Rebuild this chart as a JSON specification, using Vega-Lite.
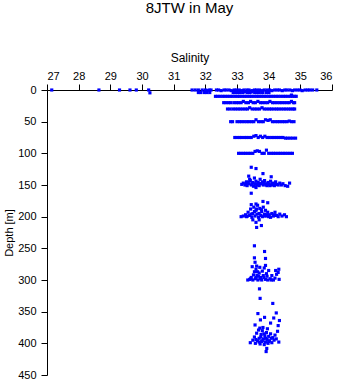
{
  "$schema": "https://vega.github.io/schema/vega-lite/v6.json",
  "width": 285,
  "height": 285,
  "autosize": {"type": "none"},
  "padding": {"left": 47, "top": 90, "right": 9, "bottom": 9},
  "title": {"text": "8JTW in May", "frame": "group", "anchor": "middle", "offset": 23, "baseline": "alphabetic", "fontSize": 15, "fontWeight": "normal", "font": "Liberation Sans", "color": "black"},
  "data": {"values": [
    {"s":27.15,"d":0},{"s":28.64,"d":0},{"s":29.29,"d":0},{"s":29.62,"d":0},{"s":29.82,"d":0},{"s":30.21,"d":0},{"s":30.25,"d":4.5},
    {"s":31.58,"d":0},{"s":31.68,"d":0},{"s":31.78,"d":0},{"s":31.9,"d":0},{"s":32.0,"d":0},{"s":32.05,"d":1},{"s":32.12,"d":0},{"s":32.18,"d":0},
    {"s":32.35,"d":0},{"s":32.42,"d":0},{"s":32.5,"d":1},{"s":32.59,"d":0},{"s":32.66,"d":0},{"s":32.75,"d":0},{"s":32.82,"d":1},{"s":32.91,"d":0},{"s":32.98,"d":0},{"s":33.07,"d":0},{"s":33.15,"d":1},{"s":33.22,"d":0},{"s":33.31,"d":0},{"s":33.38,"d":0},{"s":33.47,"d":1},{"s":33.55,"d":0},{"s":33.62,"d":0},{"s":33.71,"d":0},{"s":33.79,"d":1},{"s":33.86,"d":0},{"s":33.95,"d":0},{"s":34.03,"d":0},{"s":34.1,"d":1},{"s":34.19,"d":0},{"s":34.27,"d":0},{"s":34.34,"d":0},{"s":34.43,"d":1},{"s":34.51,"d":0},{"s":34.58,"d":0},{"s":34.67,"d":0},{"s":34.75,"d":1},{"s":34.82,"d":0},{"s":34.91,"d":0},{"s":34.99,"d":0},{"s":35.06,"d":1},{"s":35.15,"d":0},{"s":35.23,"d":0},{"s":35.3,"d":0},{"s":35.39,"d":0},{"s":35.52,"d":0},
    {"s":31.78,"d":4},{"s":31.86,"d":4},{"s":31.97,"d":4},{"s":32.05,"d":4},{"s":32.14,"d":4},
    {"s":32.88,"d":4},{"s":32.95,"d":4},{"s":33.03,"d":4},{"s":33.1,"d":4},{"s":33.18,"d":4},{"s":33.26,"d":3},{"s":33.33,"d":4},{"s":33.41,"d":4},{"s":33.48,"d":3},{"s":33.56,"d":4},{"s":33.63,"d":4},{"s":33.7,"d":4},{"s":33.78,"d":4},{"s":33.82,"d":4},{"s":33.93,"d":4},{"s":34.01,"d":4},
    {"s":32.32,"d":10},{"s":32.39,"d":10},{"s":32.47,"d":10},{"s":32.55,"d":10},{"s":32.62,"d":10},{"s":32.7,"d":10},{"s":32.78,"d":10},{"s":32.85,"d":10},{"s":32.93,"d":10},{"s":33.01,"d":10},{"s":33.08,"d":10},{"s":33.16,"d":10},{"s":33.24,"d":10},{"s":33.31,"d":10},{"s":33.39,"d":10},{"s":33.46,"d":10},{"s":33.54,"d":10},{"s":33.62,"d":10},{"s":33.69,"d":10},{"s":33.77,"d":10},{"s":33.85,"d":10},{"s":33.92,"d":10},{"s":34.0,"d":10},{"s":34.07,"d":10},{"s":34.15,"d":10},{"s":34.23,"d":10},{"s":34.3,"d":10},{"s":34.38,"d":10},{"s":34.46,"d":10},{"s":34.53,"d":10},{"s":34.61,"d":10},{"s":34.69,"d":10},{"s":34.72,"d":8},{"s":34.76,"d":10},{"s":34.82,"d":10},{"s":34.87,"d":10},
    {"s":32.58,"d":20},{"s":32.65,"d":20},{"s":32.73,"d":20},{"s":32.8,"d":20},{"s":32.9,"d":20},{"s":32.98,"d":20},{"s":33.05,"d":20},{"s":33.13,"d":20},{"s":33.2,"d":18},{"s":33.28,"d":20},{"s":33.36,"d":20},{"s":33.43,"d":18},{"s":33.51,"d":20},{"s":33.58,"d":20},{"s":33.66,"d":18},{"s":33.74,"d":20},{"s":33.81,"d":20},{"s":33.89,"d":20},{"s":33.97,"d":20},{"s":34.04,"d":18},{"s":34.12,"d":20},{"s":34.19,"d":20},{"s":34.27,"d":20},{"s":34.35,"d":20},{"s":34.42,"d":20},{"s":34.5,"d":20},{"s":34.58,"d":20},{"s":34.65,"d":20},{"s":34.72,"d":18},{"s":34.78,"d":20},{"s":34.82,"d":20},
    {"s":32.7,"d":30},{"s":32.78,"d":30},{"s":32.87,"d":30},{"s":32.95,"d":30},{"s":33.03,"d":30},{"s":33.1,"d":30},{"s":33.18,"d":30},{"s":33.26,"d":30},{"s":33.33,"d":30},{"s":33.4,"d":28},{"s":33.48,"d":30},{"s":33.56,"d":30},{"s":33.63,"d":30},{"s":33.71,"d":30},{"s":33.79,"d":28},{"s":33.86,"d":30},{"s":33.94,"d":30},{"s":34.02,"d":30},{"s":34.09,"d":30},{"s":34.17,"d":30},{"s":34.25,"d":30},{"s":34.32,"d":30},{"s":34.4,"d":30},{"s":34.48,"d":30},{"s":34.55,"d":30},{"s":34.63,"d":30},{"s":34.7,"d":30},{"s":34.77,"d":30},{"s":34.82,"d":30},
    {"s":32.8,"d":50},{"s":32.86,"d":50},{"s":33.0,"d":50},{"s":33.08,"d":50},{"s":33.15,"d":50},{"s":33.23,"d":50},{"s":33.31,"d":50},{"s":33.38,"d":50},{"s":33.46,"d":50},{"s":33.53,"d":50},{"s":33.6,"d":47},{"s":33.68,"d":50},{"s":33.76,"d":50},{"s":33.83,"d":50},{"s":33.9,"d":47},{"s":33.98,"d":48},{"s":34.05,"d":47},{"s":34.12,"d":50},{"s":34.2,"d":50},{"s":34.28,"d":50},{"s":34.35,"d":50},{"s":34.43,"d":50},{"s":34.5,"d":50},{"s":34.58,"d":50},{"s":34.65,"d":49},{"s":34.72,"d":50},{"s":34.8,"d":50},
    {"s":32.93,"d":75},{"s":33.0,"d":75},{"s":33.08,"d":75},{"s":33.15,"d":75},{"s":33.23,"d":75},{"s":33.3,"d":75},{"s":33.38,"d":75},{"s":33.45,"d":75},{"s":33.53,"d":73},{"s":33.6,"d":72},{"s":33.67,"d":75},{"s":33.74,"d":73},{"s":33.81,"d":75},{"s":33.88,"d":73},{"s":33.95,"d":75},{"s":34.02,"d":75},{"s":34.1,"d":75},{"s":34.17,"d":75},{"s":34.25,"d":75},{"s":34.32,"d":75},{"s":34.39,"d":75},{"s":34.45,"d":75},{"s":34.53,"d":76},{"s":34.6,"d":76},{"s":34.68,"d":76},{"s":34.76,"d":76},{"s":34.85,"d":76},
    {"s":33.05,"d":100},{"s":33.12,"d":100},{"s":33.2,"d":100},{"s":33.27,"d":100},{"s":33.35,"d":100},{"s":33.42,"d":100},{"s":33.5,"d":100},{"s":33.57,"d":97},{"s":33.64,"d":96},{"s":33.71,"d":97},{"s":33.79,"d":100},{"s":33.86,"d":100},{"s":33.93,"d":95},{"s":34.0,"d":100},{"s":34.08,"d":100},{"s":34.15,"d":100},{"s":34.22,"d":100},{"s":34.3,"d":100},{"s":34.37,"d":100},{"s":34.45,"d":100},{"s":34.52,"d":100},{"s":34.6,"d":100},{"s":34.68,"d":100},{"s":34.75,"d":100},
    {"s":33.45,"d":122},{"s":33.6,"d":124},{"s":33.82,"d":132},{"s":33.37,"d":136},{"s":34.08,"d":137},{"s":33.45,"d":163},{"s":33.6,"d":154},
    {"s":33.15,"d":149},{"s":33.2,"d":147},{"s":33.25,"d":150},{"s":33.3,"d":145},{"s":33.32,"d":151},{"s":33.38,"d":148},{"s":33.42,"d":143},{"s":33.45,"d":150},{"s":33.5,"d":146},{"s":33.52,"d":152},{"s":33.57,"d":148},{"s":33.6,"d":144},{"s":33.62,"d":150},{"s":33.67,"d":146},{"s":33.7,"d":151},{"s":33.73,"d":141},{"s":33.76,"d":148},{"s":33.8,"d":145},{"s":33.83,"d":150},{"s":33.87,"d":143},{"s":33.9,"d":148},{"s":33.95,"d":151},{"s":33.98,"d":146},{"s":34.02,"d":149},{"s":34.06,"d":144},{"s":34.1,"d":150},{"s":34.14,"d":147},{"s":34.18,"d":151},{"s":34.22,"d":145},{"s":34.26,"d":149},{"s":34.3,"d":150},{"s":34.35,"d":147},{"s":34.4,"d":150},{"s":34.45,"d":148},{"s":34.52,"d":151},{"s":34.6,"d":152},{"s":34.66,"d":147},{"s":33.55,"d":139},{"s":33.4,"d":141},
    {"s":33.28,"d":149},{"s":33.48,"d":148},{"s":33.65,"d":149},{"s":33.85,"d":147},{"s":34.04,"d":151},{"s":34.2,"d":149},{"s":33.35,"d":146},{"s":33.72,"d":148},{"s":33.93,"d":150},{"s":34.12,"d":148},
    {"s":33.13,"d":200},{"s":33.2,"d":199},{"s":33.27,"d":197},{"s":33.3,"d":200},{"s":33.35,"d":193},{"s":33.4,"d":198},{"s":33.43,"d":188},{"s":33.47,"d":201},{"s":33.5,"d":195},{"s":33.53,"d":185},{"s":33.57,"d":199},{"s":33.6,"d":190},{"s":33.63,"d":196},{"s":33.65,"d":182},{"s":33.68,"d":201},{"s":33.72,"d":187},{"s":33.75,"d":198},{"s":33.78,"d":192},{"s":33.8,"d":200},{"s":33.83,"d":185},{"s":33.87,"d":196},{"s":33.9,"d":190},{"s":33.93,"d":199},{"s":33.97,"d":193},{"s":34.02,"d":197},{"s":34.06,"d":201},{"s":34.1,"d":195},{"s":34.15,"d":199},{"s":34.2,"d":193},{"s":34.25,"d":198},{"s":34.3,"d":200},{"s":34.35,"d":196},{"s":34.42,"d":199},{"s":34.5,"d":197},{"s":34.56,"d":200},
    {"s":33.33,"d":199},{"s":33.45,"d":196},{"s":33.55,"d":192},{"s":33.7,"d":195},{"s":33.85,"d":199},{"s":33.95,"d":197},{"s":34.0,"d":200},{"s":34.18,"d":197},{"s":33.62,"d":188},{"s":33.77,"d":189},
    {"s":33.82,"d":176},{"s":33.6,"d":180},{"s":33.45,"d":181},{"s":33.97,"d":178},{"s":33.6,"d":209},{"s":33.77,"d":214},{"s":33.62,"d":217},{"s":33.5,"d":205},{"s":33.7,"d":205},
    {"s":33.55,"d":246},{"s":33.87,"d":255},{"s":33.55,"d":265},{"s":33.9,"d":266},{"s":33.57,"d":272},{"s":34.32,"d":283},
    {"s":33.34,"d":300},{"s":33.4,"d":299},{"s":33.45,"d":296},{"s":33.5,"d":300},{"s":33.52,"d":292},{"s":33.55,"d":287},{"s":33.58,"d":298},{"s":33.6,"d":283},{"s":33.63,"d":293},{"s":33.66,"d":300},{"s":33.7,"d":289},{"s":33.72,"d":280},{"s":33.75,"d":296},{"s":33.78,"d":300},{"s":33.8,"d":286},{"s":33.83,"d":293},{"s":33.86,"d":281},{"s":33.9,"d":299},{"s":33.93,"d":290},{"s":33.97,"d":300},{"s":34.0,"d":285},{"s":34.05,"d":298},{"s":34.1,"d":293},{"s":34.15,"d":300},{"s":34.2,"d":297},{"s":34.25,"d":291},{"s":34.3,"d":288},{"s":34.33,"d":299},{"s":34.22,"d":285},{"s":33.62,"d":278},{"s":33.9,"d":277},{"s":33.48,"d":279},
    {"s":33.43,"d":298},{"s":33.6,"d":296},{"s":33.68,"d":294},{"s":33.73,"d":298},{"s":33.85,"d":296},{"s":33.95,"d":294},{"s":34.08,"d":300},{"s":33.65,"d":287},
    {"s":33.71,"d":314},{"s":33.73,"d":329},{"s":34.13,"d":337},
    {"s":33.66,"d":353},{"s":34.24,"d":352},{"s":33.87,"d":359},{"s":34.16,"d":360},{"s":33.74,"d":363},{"s":34.34,"d":364},{"s":34.06,"d":368},{"s":33.57,"d":371},{"s":34.3,"d":372},{"s":33.82,"d":375},
    {"s":33.5,"d":395},{"s":33.55,"d":390},{"s":33.58,"d":400},{"s":33.62,"d":384},{"s":33.65,"d":396},{"s":33.68,"d":379},{"s":33.7,"d":392},{"s":33.73,"d":401},{"s":33.76,"d":386},{"s":33.78,"d":397},{"s":33.8,"d":380},{"s":33.83,"d":393},{"s":33.86,"d":402},{"s":33.88,"d":388},{"s":33.9,"d":398},{"s":33.93,"d":383},{"s":33.95,"d":394},{"s":33.98,"d":400},{"s":34.0,"d":389},{"s":34.03,"d":396},{"s":34.06,"d":385},{"s":34.1,"d":399},{"s":34.13,"d":391},{"s":34.17,"d":395},{"s":34.2,"d":387},{"s":34.24,"d":393},{"s":33.72,"d":376},{"s":33.96,"d":377},{"s":34.28,"d":381},{"s":34.32,"d":398},{"s":33.42,"d":399},{"s":33.94,"d":408},{"s":33.92,"d":413},
    {"s":33.6,"d":394},{"s":33.7,"d":398},{"s":33.8,"d":396},{"s":33.9,"d":392},{"s":34.0,"d":397},{"s":33.75,"d":390},{"s":33.85,"d":385},{"s":34.08,"d":392}
  ]},
  "mark": {"type": "point", "shape": "square", "filled": true, "size": 10, "color": "#0000ff", "opacity": 1},
  "encoding": {
    "x": {"field": "s", "type": "quantitative", "scale": {"domain": [27, 36], "nice": false, "zero": false},
          "axis": {"orient": "top", "title": "Salinity", "values": [27, 28, 29, 30, 31, 32, 33, 34, 35, 36], "labelPadding": 3, "titlePadding": 6}},
    "y": {"field": "d", "type": "quantitative", "scale": {"domain": [0, 450], "reverse": true, "nice": false, "zero": false},
          "axis": {"title": "Depth [m]", "values": [0, 50, 100, 150, 200, 250, 300, 350, 400, 450], "labelPadding": 5, "titlePadding": 3, "titleFontSize": 11}}
  },
  "config": {
    "view": {"stroke": null},
    "axis": {"grid": false, "domainColor": "black", "tickColor": "black", "labelColor": "black", "titleColor": "black",
             "labelFont": "Liberation Sans", "titleFont": "Liberation Sans", "labelFontSize": 11, "titleFontSize": 12,
             "titleFontWeight": "normal", "tickSize": 6, "domainWidth": 1, "tickWidth": 1, "labelOverlap": false}
  }
}
